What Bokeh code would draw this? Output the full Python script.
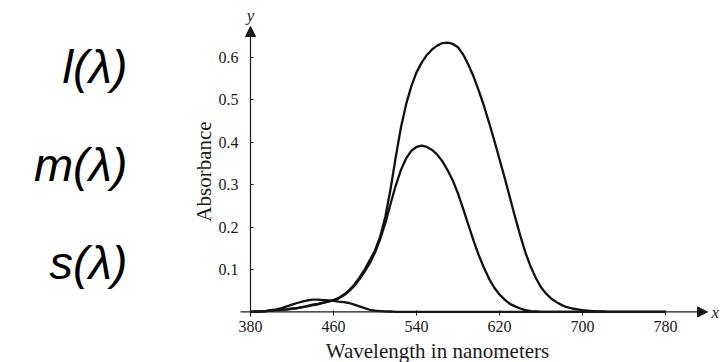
import math
from bokeh.plotting import figure
from bokeh.models import Range1d, FixedTicker, Arrow, NormalHead, Label, LinearAxis
from bokeh.embed import file_html
from bokeh.resources import INLINE

# ---- data ----
wavelength = list(range(380, 785, 5))

l_values = [0.000, 0.000, 0.001, 0.002, 0.003, 0.004, 0.005, 0.006, 0.008, 0.009,   # 380-425
            0.011, 0.014, 0.017, 0.019, 0.022, 0.025, 0.028, 0.033, 0.041, 0.051,   # 430-475
            0.064, 0.081, 0.100, 0.122, 0.145, 0.178, 0.225, 0.290, 0.365, 0.435,   # 480-525
            0.490, 0.532, 0.565, 0.588, 0.606, 0.619, 0.628, 0.634, 0.635, 0.632,   # 530-575
            0.624, 0.607, 0.583, 0.555, 0.522, 0.486, 0.446, 0.404, 0.360, 0.316,   # 580-625
            0.270, 0.224, 0.180, 0.140, 0.107, 0.080, 0.058, 0.043, 0.031, 0.023,   # 630-675
            0.016, 0.011, 0.008, 0.006, 0.004, 0.003, 0.002, 0.001, 0.001, 0.000,   # 680-725
            0.000, 0.000, 0.000, 0.000, 0.000, 0.000, 0.000, 0.000, 0.000, 0.000,   # 730-775
            0.000]                                                                   # 780

m_values = [0.000, 0.000, 0.001, 0.002, 0.003, 0.004, 0.005, 0.006, 0.007, 0.009,
            0.011, 0.013, 0.016, 0.018, 0.021, 0.024, 0.027, 0.032, 0.039, 0.049,
            0.061, 0.077, 0.095, 0.115, 0.140, 0.172, 0.210, 0.255, 0.298, 0.335,
            0.362, 0.380, 0.389, 0.392, 0.389, 0.382, 0.371, 0.355, 0.334, 0.310,
            0.279, 0.243, 0.205, 0.168, 0.134, 0.104, 0.078, 0.057, 0.041, 0.029,
            0.019, 0.013, 0.008, 0.004, 0.002, 0.001, 0.000, 0.000, 0.000, 0.000,
            0.000, 0.000, 0.000, 0.000, 0.000, 0.000, 0.000, 0.000, 0.000, 0.000,
            0.000, 0.000, 0.000, 0.000, 0.000, 0.000, 0.000, 0.000, 0.000, 0.000,
            0.000]

s_values = [0.000, 0.001, 0.001, 0.002, 0.004, 0.006, 0.009, 0.013, 0.017, 0.021,
            0.024, 0.027, 0.029, 0.029, 0.028, 0.027, 0.026, 0.024, 0.023, 0.021,
            0.017, 0.013, 0.009, 0.005, 0.003, 0.002, 0.001, 0.001, 0.000, 0.000,
            0.000, 0.000, 0.000, 0.000, 0.000, 0.000, 0.000, 0.000, 0.000, 0.000,
            0.000, 0.000, 0.000, 0.000, 0.000, 0.000, 0.000, 0.000, 0.000, 0.000,
            0.000, 0.000, 0.000, 0.000, 0.000, 0.000, 0.000, 0.000, 0.000, 0.000,
            0.000, 0.000, 0.000, 0.000, 0.000, 0.000, 0.000, 0.000, 0.000, 0.000,
            0.000, 0.000, 0.000, 0.000, 0.000, 0.000, 0.000, 0.000, 0.000, 0.000,
            0.000]

x_ticks = [380, 460, 540, 620, 700, 780]
y_ticks = [0.1, 0.2, 0.3, 0.4, 0.5, 0.6]
curve_names = ["l(λ)", "m(λ)", "s(λ)"]
x_title = "Wavelength in nanometers"
y_title = "Absorbance"

# ---- layout helpers (pixel positions -> data coordinates) ----
W, H = 721, 362
X0_PX, Y0_PX = 250.0, 311.4        # pixel position of (380, 0)
PX_PER_NM = 83.0 / 80.0
PX_PER_UNIT = 424.0


def sx(px):
    return 380 + (px - X0_PX) / PX_PER_NM


def sy(py):
    return (Y0_PX - py) / PX_PER_UNIT


p = figure(width=W, height=H,
           x_range=Range1d(sx(0), sx(W)), y_range=Range1d(sy(H), sy(0)),
           output_backend="svg", toolbar_location=None,
           x_axis_location=None, y_axis_location=None,
           min_border=0, min_border_left=0, min_border_right=0,
           min_border_top=0, min_border_bottom=0)
p.outline_line_color = None
p.grid.visible = False
p.background_fill_color = "white"
p.border_fill_color = "white"

serif = "Liberation Serif"
ink = "#1a1a1a"

# y axis (through x = 380)
yax = LinearAxis(fixed_location=380, ticker=FixedTicker(ticks=y_ticks))
yax.axis_line_color = None
yax.major_tick_in = 3
yax.major_tick_out = 0
yax.minor_tick_line_color = None
yax.major_tick_line_color = ink
yax.major_label_text_font = serif
yax.major_label_text_font_size = "16px"
yax.major_label_text_color = ink
yax.major_label_standoff = 12
p.add_layout(yax, "left")

# x axis (through y = 0)
xax = LinearAxis(fixed_location=0, ticker=FixedTicker(ticks=x_ticks))
xax.axis_line_color = None
xax.major_tick_in = 1
xax.major_tick_out = 4
xax.minor_tick_line_color = None
xax.major_tick_line_color = ink
xax.major_label_text_font = serif
xax.major_label_text_font_size = "16px"
xax.major_label_text_color = ink
xax.major_label_standoff = 5
p.add_layout(xax, "below")

# axis lines with arrow heads
p.add_layout(Arrow(x_start=sx(240), y_start=0, x_end=sx(707), y_end=0,
                   line_color=ink, line_width=1.2,
                   end=NormalHead(size=10, fill_color=ink, line_color=ink)))
p.add_layout(Arrow(x_start=380, y_start=sy(316), x_end=380, y_end=sy(26),
                   line_color=ink, line_width=1.2,
                   end=NormalHead(size=10, fill_color=ink, line_color=ink)))

# curves
for vals in (l_values, m_values, s_values):
    p.line(wavelength, vals, line_color="#111111", line_width=2.3)

# axis titles and axis letters
p.add_layout(Label(x=sx(437), y=sy(350), text=x_title,
                   text_font=serif, text_font_size="21px", text_align="center",
                   text_baseline="middle", text_color=ink))
p.add_layout(Label(x=sx(203), y=sy(171), text=y_title, angle=math.pi / 2,
                   text_font=serif, text_font_size="21px", text_align="center",
                   text_baseline="middle", text_color=ink))
p.add_layout(Label(x=sx(711), y=sy(312), text="x", text_font=serif,
                   text_font_style="italic", text_font_size="17px", text_align="left",
                   text_baseline="middle", text_color=ink))
p.add_layout(Label(x=sx(250), y=sy(15), text="y", text_font=serif,
                   text_font_style="italic", text_font_size="17px", text_align="center",
                   text_baseline="middle", text_color=ink))

# curve names at the left
name_py = [65.5, 164, 261.5]
for name, py in zip(curve_names, name_py):
    p.add_layout(Label(x=sx(127), y=sy(py), text=name, text_font="Liberation Sans",
                       text_font_style="italic", text_font_size="47px",
                       text_align="right", text_baseline="middle", text_color="black"))

open("out.html", "w").write(file_html(p, INLINE))
